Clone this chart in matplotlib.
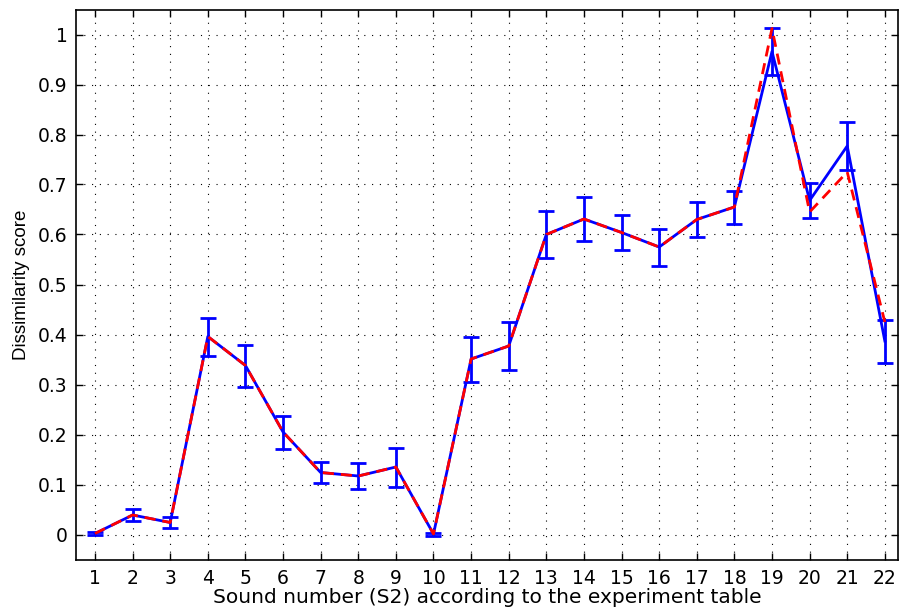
import numpy as np
import matplotlib
matplotlib.use('Agg')
import matplotlib.pyplot as plt
from matplotlib.ticker import FuncFormatter

plt.rcParams['font.family'] = ['DejaVu Sans']

sounds = list(range(1, 23))
score = [0.002, 0.039, 0.024, 0.396, 0.338, 0.205, 0.124, 0.117, 0.135, 0.001, 0.351,
         0.377, 0.600, 0.631, 0.604, 0.575, 0.630, 0.655, 0.966, 0.668, 0.777, 0.387]
err = [0.003, 0.012, 0.011, 0.038, 0.042, 0.033, 0.021, 0.026, 0.039, 0.003, 0.045,
       0.048, 0.047, 0.044, 0.035, 0.037, 0.035, 0.033, 0.047, 0.035, 0.048, 0.043]
# second (dashed) series, differs only near the end
score2 = [0.002, 0.039, 0.024, 0.396, 0.338, 0.205, 0.124, 0.117, 0.135, 0.001, 0.351,
          0.377, 0.600, 0.631, 0.604, 0.575, 0.630, 0.655, 1.012, 0.645, 0.725, 0.425]

fig = plt.figure(figsize=(8.99, 6.09), dpi=100)
ax = fig.add_axes([76/899, 1-559.5/609, 822/899, 550/609])

ax.errorbar(sounds, score, yerr=err, color='#0000ff', lw=2, capsize=6, capthick=2,
            elinewidth=2, zorder=3)
ax.plot(sounds, score2, color='#ff0000', lw=2, dashes=(4, 2.5), zorder=4)

ax.set_xlim(0.495, 22.35)
ax.set_ylim(-0.05, 1.05)
ax.set_xticks(sounds)
ax.set_yticks(np.arange(0, 1.01, 0.1))
ax.yaxis.set_major_formatter(FuncFormatter(lambda v, p: '%g' % round(v, 2)))
ax.grid(True, color='black', linestyle=(0, (1, 6)), linewidth=0.8)
ax.tick_params(direction='in', length=5, width=1, top=True, right=True, labelsize=13.5)
ax.tick_params(axis='x', pad=7)
ax.tick_params(axis='y', pad=6)
for s in ax.spines.values():
    s.set_linewidth(1.2)

ax.set_xlabel('Sound number (S2) according to the experiment table', fontsize=14.5, labelpad=0)
ax.set_ylabel('Dissimilarity score', fontsize=13.5, labelpad=6, family='Liberation Sans')

plt.savefig('out.png', dpi=100)
